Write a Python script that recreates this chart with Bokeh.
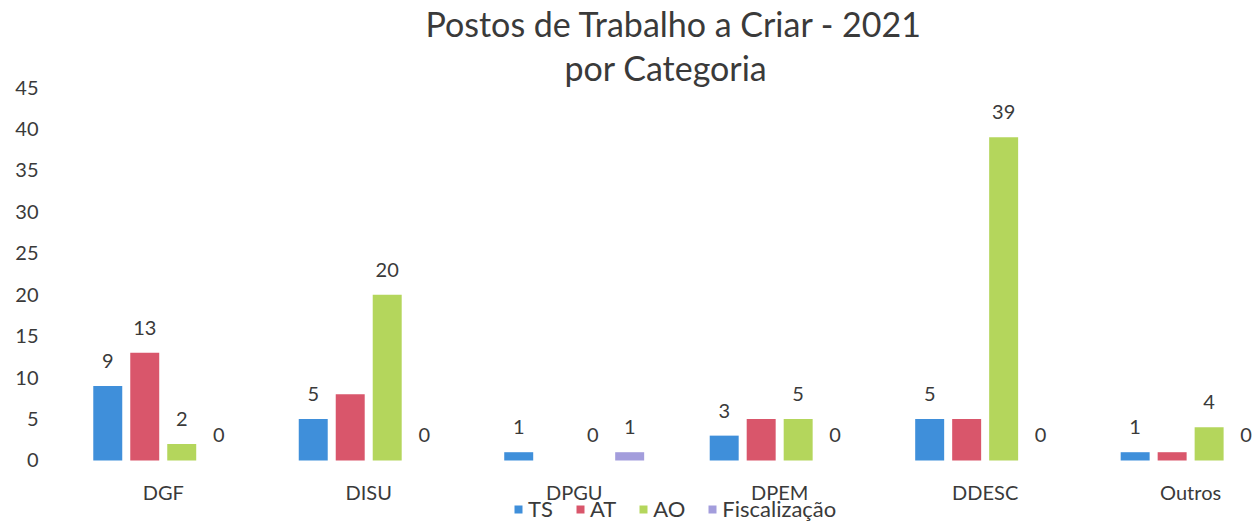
from bokeh.plotting import figure
from bokeh.models import Range1d, FixedTicker, Title, Legend, LegendItem, ColumnDataSource
from bokeh.transform import dodge
from bokeh.core.properties import value
from bokeh.embed import file_html
from bokeh.resources import INLINE

categories = ["DGF", "DISU", "DPGU", "DPEM", "DDESC", "Outros"]
series_names = ["TS", "AT", "AO", "Fiscalização"]
ts = [9, 5, 1, 3, 5, 1]
at = [13, 8, 0, 5, 5, 1]
ao = [2, 20, 0, 5, 39, 4]
fisc = [0, 0, 1, 0, 0, 0]
# which data labels are visible in the original (AT only labelled for DGF)
ts_shown = [True] * 6
at_shown = [True, False, False, False, False, False]
ao_shown = [True] * 6
fisc_shown = [True] * 6
colors = ["#3f8fda", "#d9566b", "#b4d65c", "#a39ddc"]
y_ticks = [0, 5, 10, 15, 20, 25, 30, 35, 40, 45]

FONT = "Lato"
TXT = "#3a3a3a"

xs = list(range(len(categories)))
series = [ts, at, ao, fisc]
shown = [ts_shown, at_shown, ao_shown, fisc_shown]

data = {"x": xs}
for name, vals, sh in zip(series_names, series, shown):
    data[name] = vals
    data[name + "_lbl"] = [str(v) if s else "" for v, s in zip(vals, sh)]
src = ColumnDataSource(data)

# y range extends below zero so the category labels and legend fit inside the frame
p = figure(width=1260, height=522, output_backend="svg", toolbar_location=None,
           x_range=Range1d(-0.5, 5.34), y_range=Range1d(-7.48, 45),
           min_border_left=60, min_border_right=0, min_border_bottom=0, min_border_top=87)
p.outline_line_color = None
p.xgrid.visible = False
p.ygrid.visible = False

offsets = [-0.27, -0.09, 0.09, 0.27]
bar_w = 0.141
items = []
for name, off, col in zip(series_names, offsets, colors):
    r = p.vbar(x=dodge("x", off, range=p.x_range), top=name, width=bar_w, source=src,
               fill_color=col, line_color=None)
    p.text(x=dodge("x", off, range=p.x_range), y=name, text=name + "_lbl", source=src,
           text_align="center", text_baseline="middle", y_offset=-25,
           text_font=value(FONT), text_font_size="20px", text_color=TXT)
    items.append(LegendItem(label=name, renderers=[r]))

for ax in (p.xaxis, p.yaxis):
    ax.axis_line_color = None
    ax.major_tick_line_color = None
    ax.minor_tick_line_color = None
    ax.major_tick_out = 0
    ax.major_tick_in = 0
    ax.minor_tick_out = 0
    ax.minor_tick_in = 0
    ax.major_label_text_font = FONT
    ax.major_label_text_font_size = "20px"
    ax.major_label_text_color = TXT

p.xaxis.ticker = FixedTicker(ticks=xs)
p.xaxis.major_label_overrides = {i: c for i, c in enumerate(categories)}
p.xaxis.major_label_standoff = 20
p.xaxis.fixed_location = 0
p.yaxis.ticker = FixedTicker(ticks=y_ticks)
p.yaxis.major_label_standoff = 22

legend = Legend(items=items, location=(453, 0), orientation="horizontal",
                background_fill_alpha=0, border_line_color=None, padding=0, margin=0,
                spacing=22, glyph_width=10, glyph_height=10, label_standoff=5, label_height=18,
                label_text_font=FONT, label_text_font_size="22px", label_text_color=TXT)
p.add_layout(legend)

p.add_layout(Title(text="por Categoria", align="left", offset=504, text_font=FONT,
                   text_font_size="34px", text_font_style="normal", text_color=TXT,
                   standoff=0), "above")
p.add_layout(Title(text="Postos de Trabalho a Criar - 2021", align="left", offset=365,
                   text_font=FONT, text_font_size="34px", text_font_style="normal",
                   text_color=TXT, standoff=1), "above")

open("out.html", "w").write(file_html(p, INLINE))
